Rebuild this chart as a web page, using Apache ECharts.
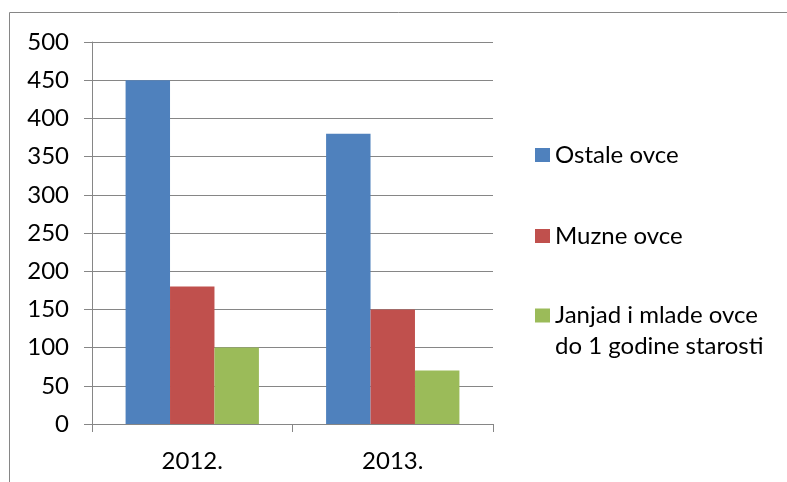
<!DOCTYPE html>
<html>
<head>
<meta charset="utf-8">
<script src="https://cdn.jsdelivr.net/npm/echarts@6/dist/echarts.min.js"></script>
<style>
html,body{margin:0;padding:0;background:#fff;}
#chart{width:787px;height:482px;}
</style>
</head>
<body>
<div id="chart"></div>
<script>
const categories = ['2012.', '2013.'];
const ostaleOvce = [450, 380];
const muzneOvce = [180, 150];
const janjad = [100, 70];
const seriesNames = ['Ostale ovce', 'Muzne ovce', 'Janjad i mlade ovce do 1 godine starosti'];
const legendLabels = ['Ostale ovce', 'Muzne ovce', '\nJanjad i mlade ovce\ndo 1 godine starosti'];
const yTicks = { min: 0, max: 500, interval: 50 };

const FONT = 'Lato';
const GRAY = '#868686';
const colors = ['#4F81BD', '#C0504D', '#9BBB59'];

const chart = echarts.init(document.getElementById('chart'));
const legendTops = [139.5, 220.5, 269];
const legendText = { fontFamily: FONT, fontSize: 24, color: '#000', lineHeight: 31 };

chart.setOption({
  animation: false,
  color: colors,
  graphic: [{
    type: 'rect',
    shape: { x: 9.5, y: 12.5, width: 900, height: 600 },
    style: { fill: 'none', stroke: GRAY, lineWidth: 1 },
    silent: true
  }],
  grid: { left: 92, right: 294, top: 42, bottom: 58 },
  legend: seriesNames.map((n, i) => ({
    data: [n],
    orient: 'vertical',
    left: 535,
    top: legendTops[i],
    padding: 0,
    itemWidth: 15,
    itemHeight: 14,
    icon: 'rect',
    selectedMode: false,
    textStyle: legendText,
    formatter: () => legendLabels[i]
  })),
  xAxis: {
    type: 'category',
    data: categories,
    axisLine: { lineStyle: { color: GRAY, width: 1 } },
    axisTick: { show: true, length: 8, lineStyle: { color: GRAY } },
    axisLabel: { fontFamily: FONT, fontSize: 24, color: '#000', margin: 25 }
  },
  yAxis: {
    type: 'value',
    min: yTicks.min, max: yTicks.max, interval: yTicks.interval,
    axisLine: { show: true, lineStyle: { color: GRAY, width: 1 } },
    axisTick: { show: true, length: 8, lineStyle: { color: GRAY } },
    splitLine: { lineStyle: { color: GRAY, width: 1 } },
    axisLabel: { fontFamily: FONT, fontSize: 24, color: '#000', margin: 23 }
  },
  series: [
    { name: seriesNames[0], type: 'bar', data: ostaleOvce, barGap: '0%', barCategoryGap: '33.5%' },
    { name: seriesNames[1], type: 'bar', data: muzneOvce, barGap: '0%', barCategoryGap: '33.5%' },
    { name: seriesNames[2], type: 'bar', data: janjad, barGap: '0%', barCategoryGap: '33.5%' }
  ]
});
</script>
</body>
</html>
